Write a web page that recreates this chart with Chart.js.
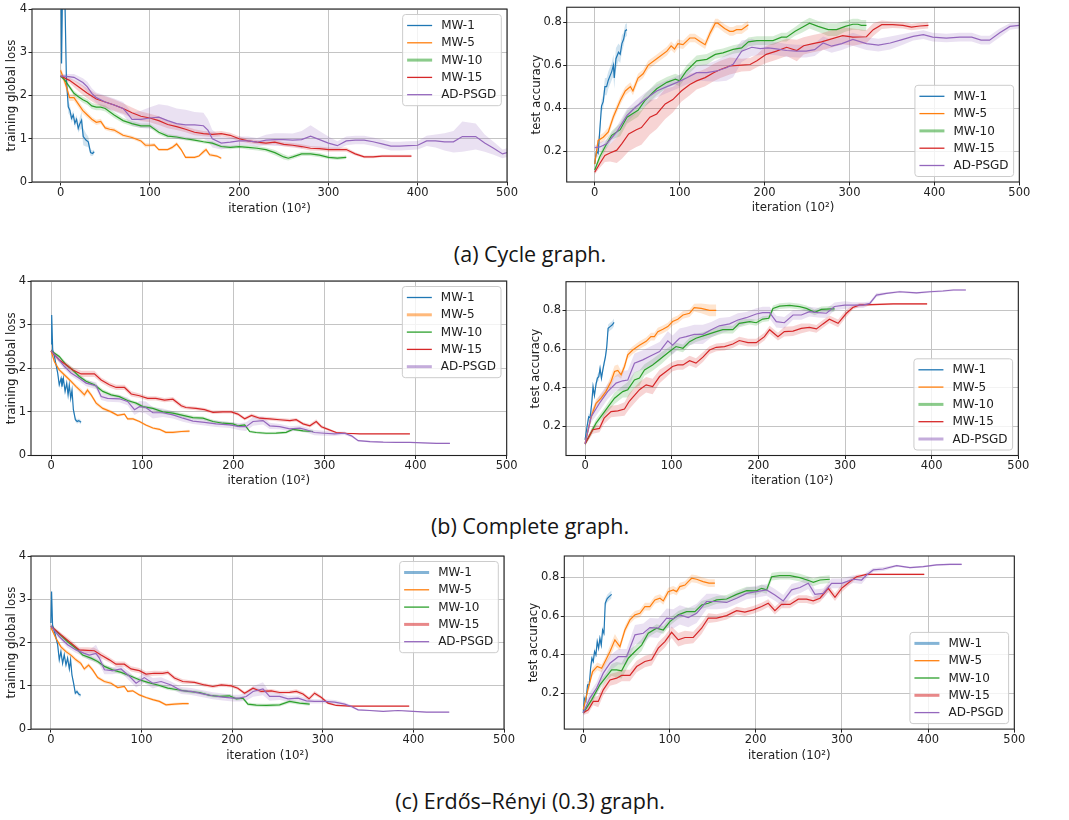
<!DOCTYPE html>
<html>
<head>
<meta charset="utf-8">
<script src="https://cdn.jsdelivr.net/npm/chart.js@4.4.1/dist/chart.umd.min.js"></script>
<style>
  body { margin: 0; background: #fff; width: 1069px; height: 820px; position: relative; overflow: hidden; }
  canvas { position: absolute; }
  .cap { position: absolute; left: 0; width: 1060px; text-align: center; font-family: "Open Sans", Lato, sans-serif;
         font-size: 21.5px; line-height: 1.2; color: #151515; }
</style>
</head>
<body>
<canvas id="cycLoss" width="520" height="216" style="left:0;top:0"></canvas>
<canvas id="cycAcc" width="549" height="215" style="left:520px;top:0"></canvas>
<div class="cap" style="top:241px">(a) Cycle graph.</div>
<canvas id="compLoss" width="520" height="218" style="left:0;top:270px"></canvas>
<canvas id="compAcc" width="549" height="218" style="left:520px;top:270px"></canvas>
<div class="cap" style="top:513px">(b) Complete graph.</div>
<canvas id="erLoss" width="520" height="218" style="left:0;top:545px"></canvas>
<canvas id="erAcc" width="549" height="218" style="left:520px;top:545px"></canvas>
<div class="cap" style="top:788px">(c) Erdős–Rényi (0.3) graph.</div>

<script>
// series names + tab10 colours
const SERIES = ['MW-1', 'MW-5', 'MW-10', 'MW-15', 'AD-PSGD'];
const COLORS = ['#1f77b4', '#ff7f0e', '#2ca02c', '#d62728', '#9467bd'];
const BANDS = ['rgba(31,119,180,0.2)', 'rgba(255,127,14,0.2)', 'rgba(44,160,44,0.2)', 'rgba(214,39,40,0.2)', 'rgba(148,103,189,0.2)'];

const xTicks = [0, 100, 200, 300, 400, 500];
const lossTicks = [0, 1, 2, 3, 4];
const accTicks = [0.2, 0.4, 0.6, 0.8];

// X = iteration (x100), Y = mean, S = half-width of shaded band (last value repeats)

// ---- (a) cycle, loss
const cycLossM1X = [0,1.1,2.2,3.5,4.9,6.5,8.6,10.4,12.3,14.2,16,17.9,19.8,21.6,23.5,25.4,28.4,31,33.6,35.8,37.7];
const cycLossM1Y = [5.5,2.74,4.5,5.0,4.2,2.4,1.74,1.66,1.47,1.55,1.36,1.45,1.24,1.35,1.43,1.05,0.97,0.93,0.68,0.66,0.7];
const cycLossM1S = [0.5,0.3,0.5,0.5,0.4,0.2,0.15,0.12,0.1,0.1,0.1,0.1,0.1,0.15,0.2,0.2,0.15,0.12,0.08,0.06,0.05];
const cycLossM5X = [0,5,8,10,15,20,25,30,35,40,45,50,55,60,70,80,90,95,100,105,110,115,120,125,130,135,140,150,155,160,163,167,175,180];
const cycLossM5Y = [2.58,2.3,2.1,1.95,1.95,1.8,1.65,1.55,1.45,1.38,1.4,1.25,1.22,1.2,1.08,1.03,0.95,0.85,0.85,0.86,0.75,0.75,0.75,0.8,0.88,0.75,0.57,0.57,0.6,0.7,0.75,0.63,0.6,0.55];
const cycLossM5S = [0.08,0.1,0.1,0.08,0.08,0.08,0.08,0.07,0.06,0.06,0.06,0.05,0.05,0.05,0.04,0.04,0.04,0.05,0.04,0.04,0.03,0.03,0.03,0.04,0.05,0.04,0.03,0.03,0.03,0.05,0.05,0.04,0.03,0.03];
const cycLossM10X = [0,5,10,15,20,25,30,35,40,45,50,60,70,80,90,100,110,120,130,140,150,160,170,180,190,200,210,220,230,240,250,255,260,270,280,290,300,310,320];
const cycLossM10Y = [2.45,2.35,2.2,2.05,1.97,1.9,1.85,1.76,1.73,1.73,1.7,1.55,1.42,1.35,1.3,1.3,1.15,1.06,1.04,1.0,0.97,0.93,0.9,0.82,0.8,0.82,0.8,0.78,0.75,0.68,0.58,0.55,0.58,0.65,0.65,0.62,0.57,0.55,0.57];
const cycLossM10S = [0.03,0.04,0.05,0.06,0.06,0.07,0.07,0.07,0.07,0.07,0.07,0.07,0.06,0.06,0.05,0.05,0.05,0.05,0.04,0.04,0.04,0.04,0.04,0.04,0.04,0.04,0.05,0.05,0.05,0.06,0.06,0.05,0.05,0.05,0.05,0.05,0.04];
const cycLossM15X = [0,10,20,30,40,50,60,70,80,90,100,110,120,130,140,150,160,170,180,190,200,210,220,230,240,250,260,270,280,290,300,310,320,330,340,350,360,370,380,393];
const cycLossM15Y = [2.45,2.35,2.2,2.05,1.92,1.85,1.78,1.7,1.6,1.52,1.48,1.42,1.33,1.28,1.22,1.15,1.12,1.1,1.12,1.08,1.0,0.95,0.92,0.9,0.92,0.87,0.85,0.82,0.78,0.77,0.75,0.75,0.75,0.65,0.58,0.58,0.6,0.6,0.6,0.6];
const cycLossM15S = [0.03,0.06,0.1,0.12,0.12,0.13,0.13,0.12,0.12,0.11,0.1,0.1,0.09,0.08,0.07,0.07,0.06,0.06,0.06,0.06,0.06,0.05,0.05,0.05,0.05,0.05,0.05,0.05,0.05,0.05,0.05,0.05,0.05,0.04,0.03];
const cycLossADX = [0,5,15,25,30,35,40,50,60,70,75,80,90,100,110,120,130,140,150,160,165,170,180,190,200,210,220,230,240,250,260,270,280,290,300,310,320,330,340,350,360,370,380,390,400,410,420,430,440,450,465,475,485,495,500];
const cycLossADY = [2.45,2.45,2.42,2.3,2.2,2.05,1.95,1.85,1.78,1.7,1.58,1.45,1.45,1.48,1.5,1.42,1.35,1.32,1.32,1.3,1.2,1.0,0.9,0.92,0.95,0.95,0.92,0.97,0.98,0.98,0.97,0.98,1.06,0.98,0.9,0.84,0.95,0.97,0.97,0.93,0.88,0.83,0.83,0.84,0.85,0.95,0.95,0.93,0.93,1.05,1.05,0.9,0.78,0.65,0.68];
const cycLossADS = [0.05,0.05,0.08,0.1,0.12,0.12,0.12,0.15,0.15,0.15,0.15,0.15,0.2,0.25,0.3,0.35,0.35,0.35,0.3,0.3,0.25,0.2,0.15,0.12,0.1,0.1,0.1,0.12,0.15,0.15,0.15,0.2,0.25,0.2,0.15,0.1,0.1,0.1,0.1,0.1,0.1,0.1,0.1,0.1,0.1,0.12,0.15,0.2,0.25,0.35,0.3,0.2,0.15,0.1,0.1];

// ---- (a) cycle, accuracy
const cycAccM1X = [0,2,4,6,8,10,12,14,16,18,20,22,23,25,28,30,32,34,36,38];
const cycAccM1Y = [0.14,0.2,0.19,0.3,0.41,0.43,0.5,0.5,0.53,0.55,0.57,0.6,0.54,0.63,0.66,0.65,0.7,0.72,0.76,0.765];
const cycAccM1S = [0.01,0.02,0.02,0.03,0.03,0.03,0.04,0.04,0.04,0.04,0.04,0.05,0.05,0.05,0.04,0.04,0.04,0.03];
const cycAccM5X = [0,4,10,16,22,30,36,42,45,51,57,63,73,85,90,94,98,104,112,118,124,130,136,142,145,153,159,163,167,173,181];
const cycAccM5Y = [0.14,0.25,0.265,0.29,0.36,0.435,0.48,0.5,0.48,0.54,0.56,0.6,0.63,0.665,0.69,0.675,0.7,0.695,0.726,0.726,0.71,0.695,0.75,0.795,0.795,0.77,0.757,0.757,0.765,0.765,0.788];
const cycAccM5S = [0.01,0.02];
const cycAccM10X = [0,6,12,20,30,38,44,51,59,73,85,95,100,108,120,132,142,151,163,173,181,191,202,210,220,226,236,244,253,263,275,285,295,304,310,314,320];
const cycAccM10Y = [0.113,0.174,0.22,0.274,0.3,0.358,0.373,0.39,0.435,0.49,0.52,0.535,0.527,0.573,0.62,0.627,0.65,0.657,0.673,0.68,0.708,0.714,0.714,0.714,0.73,0.73,0.757,0.775,0.795,0.78,0.765,0.765,0.78,0.79,0.79,0.785,0.785];
const cycAccM10S = [0.01,0.015,0.02,0.02,0.03,0.03,0.03,0.03,0.03,0.03,0.025,0.025,0.025,0.025,0.025,0.025,0.02,0.02,0.02,0.02,0.02,0.02,0.02,0.02,0.02,0.02,0.02,0.025,0.025,0.025,0.03,0.03,0.025];
const cycAccM15X = [0,6,12,18,26,32,40,49,55,65,73,83,92,102,112,120,130,140,148,159,173,183,191,202,214,226,238,246,257,267,277,292,304,320,328,338,351,363,373,383,393];
const cycAccM15Y = [0.102,0.143,0.18,0.192,0.205,0.235,0.28,0.3,0.31,0.358,0.373,0.42,0.44,0.48,0.51,0.527,0.542,0.565,0.58,0.596,0.6,0.603,0.62,0.65,0.665,0.683,0.668,0.69,0.7,0.708,0.72,0.737,0.73,0.732,0.765,0.788,0.788,0.785,0.777,0.782,0.785];
const cycAccM15S = [0.01,0.02,0.03,0.04,0.06,0.07,0.08,0.08,0.08,0.08,0.07,0.07,0.06,0.05,0.05,0.04,0.04,0.04,0.04,0.04,0.03,0.03,0.03,0.04,0.04,0.04,0.05,0.04,0.04,0.04,0.04,0.04,0.04,0.03,0.03,0.02,0.015];
const cycAccADX = [0,6,14,26,38,48,59,73,85,97,108,120,132,144,155,163,173,185,195,204,214,226,238,249,259,269,279,291,304,320,334,348,363,375,387,398,414,430,444,455,465,477,489,500];
const cycAccADY = [0.217,0.22,0.235,0.29,0.366,0.404,0.44,0.48,0.5,0.52,0.54,0.565,0.565,0.573,0.588,0.604,0.665,0.683,0.677,0.68,0.676,0.668,0.665,0.665,0.672,0.703,0.688,0.7,0.72,0.7,0.693,0.703,0.72,0.734,0.742,0.73,0.726,0.73,0.73,0.716,0.716,0.75,0.78,0.785];
const cycAccADS = [0.01,0.02,0.02,0.025,0.03,0.03,0.03,0.03,0.03,0.03,0.03,0.035,0.04,0.05,0.06,0.06,0.05,0.04,0.03,0.03,0.03,0.03,0.03,0.03,0.03,0.03,0.03,0.03,0.03,0.03,0.03,0.03,0.025,0.02,0.02,0.02,0.02,0.02,0.02,0.02,0.02,0.02,0.015];

// ---- (b) complete, loss
const compLossM1X = [0,0.7,1.8,3.7,5.5,7.3,9,11,12,13.5,15.4,17.2,18.7,20,21.6,23,24.5,26.7,28.6,30.4,33];
const compLossM1Y = [2.56,3.22,2.42,2.27,2.08,1.89,1.62,1.77,1.58,1.77,1.47,1.66,1.39,1.62,1.31,1.5,1.05,0.82,0.78,0.8,0.76];
const compLossM1S = [0.1,0.1,0.08,0.06,0.05];
const compLossM5X = [0,3.7,9,16.5,22,27.5,33,36.6,40,44,49.5,56.8,66,73,80.6,84,90,97,104,111.7,119,126,133.7,142.9,152];
const compLossM5Y = [2.4,2.15,1.96,1.81,1.7,1.58,1.47,1.39,1.5,1.39,1.2,1.08,1.0,0.92,0.95,0.84,0.84,0.78,0.7,0.63,0.6,0.53,0.53,0.55,0.56];
const compLossM5S = [0.03,0.04,0.05,0.05,0.05,0.05,0.06,0.06,0.06,0.05,0.05,0.04,0.04,0.03];
const compLossM10X = [0,9,16.5,23.8,31,38.5,47.6,56.8,66,75,84,93.4,100.7,111.7,122.7,133.7,144.7,155.7,166.7,177.7,188.6,199.6,205,212.5,218,225,236,247,258,265.6,276.6,287.5];
const compLossM10Y = [2.4,2.27,2.08,1.96,1.81,1.7,1.62,1.47,1.39,1.35,1.26,1.2,1.12,1.08,1.0,0.97,0.92,0.87,0.855,0.78,0.74,0.725,0.68,0.7,0.55,0.527,0.51,0.515,0.53,0.6,0.565,0.55];
const compLossM10S = [0.03,0.04,0.05,0.05,0.05,0.05,0.05,0.05,0.04,0.04,0.04,0.04,0.04,0.04,0.05,0.05,0.05,0.04,0.04,0.04,0.04,0.04,0.04,0.03];
const compLossM15X = [0,9,16.5,23.8,33,40,47.6,55,64,71.4,80.6,88,97,106,115,124.5,133.7,142.9,148,159,168.5,177.7,188.6,197.8,205,212.5,220,229,240,251,262,269,276.6,284,291,296.7,304,313,324,338.8,364.5,393.8];
const compLossM15Y = [2.4,2.19,2.08,1.96,1.87,1.87,1.87,1.73,1.62,1.56,1.56,1.41,1.37,1.31,1.31,1.27,1.29,1.14,1.1,1.08,1.05,0.99,1.0,1.0,0.95,0.84,0.92,0.855,0.84,0.82,0.8,0.82,0.725,0.68,0.78,0.66,0.6,0.527,0.51,0.496,0.496,0.496];
const compLossM15S = [0.04,0.05,0.06,0.06,0.07,0.07,0.07,0.06,0.06,0.06,0.06,0.06,0.05,0.05,0.05,0.05,0.05,0.05,0.04,0.04,0.04,0.04,0.04,0.04,0.04,0.04,0.04,0.04,0.04,0.04,0.04,0.04,0.04,0.04,0.05,0.04,0.03,0.02,0.02,0.01];
const compLossADX = [0,7.3,14.7,22,31,38.5,49.5,55,62,75,84,91.6,97,104,111.7,122.7,133.7,144.7,155.7,168.5,181,196,207,214,221.6,232.6,240,251,262,273,280,289,300,311,322,329.7,337,350,364.5,379,393.8,408,423,437.7];
const compLossADY = [2.4,2.23,2.04,1.89,1.77,1.66,1.6,1.35,1.31,1.3,1.24,1.05,1.12,1.1,0.98,0.98,0.93,0.855,0.79,0.76,0.725,0.7,0.66,0.66,0.78,0.8,0.68,0.66,0.61,0.626,0.59,0.527,0.51,0.496,0.51,0.45,0.34,0.32,0.305,0.3,0.3,0.29,0.28,0.28];
const compLossADS = [0.05,0.06,0.07,0.07,0.07,0.07,0.08,0.08,0.08,0.08,0.09,0.12,0.13,0.14,0.13,0.1,0.08,0.08,0.07,0.07,0.07,0.07,0.08,0.1,0.1,0.09,0.07,0.06,0.06,0.06,0.06,0.06,0.06,0.05,0.04,0.03,0.02,0.02,0.01];

// ---- (b) complete, accuracy
const compAccM1X = [0,2.3,4.2,5.8,7.7,9.2,10.8,12.7,14.3,15.8,17.3,18.9,20.4,22,23.5,25,26.6,28.9,31.2,33.5];
const compAccM1Y = [0.131,0.2,0.25,0.245,0.32,0.406,0.36,0.42,0.45,0.457,0.5,0.45,0.49,0.527,0.56,0.61,0.707,0.716,0.724,0.738];
const compAccM1S = [0.01,0.02];
const compAccM5X = [0,7,12.7,18.5,24,30,34,37.8,41.6,45.5,49.3,55,62.8,70.5,76,80,84,89.8,95.5,101,107,113,120.6,126,134,143.7,151.4];
const compAccM5Y = [0.114,0.25,0.32,0.346,0.38,0.432,0.484,0.49,0.467,0.51,0.57,0.595,0.62,0.64,0.664,0.664,0.69,0.702,0.716,0.742,0.754,0.776,0.785,0.814,0.81,0.8,0.8];
const compAccM5S = [0.01,0.02,0.02,0.02,0.02,0.03,0.03,0.03,0.02,0.02,0.02,0.02,0.02,0.02,0.02,0.02,0.02,0.02,0.02,0.02,0.02,0.02,0.02,0.02,0.025,0.03];
const compAccM10X = [0,12.7,24,34,43.5,49.3,57,62.8,68.6,78,87.8,97.5,105,113,120.6,128,139.8,151.4,159,170.6,178,190,197.6,205,212,216.9,224.6,236,247.7,255.4,265,272.7,284,288];
const compAccM10Y = [0.11,0.217,0.286,0.346,0.38,0.39,0.44,0.45,0.492,0.518,0.552,0.587,0.613,0.604,0.638,0.656,0.673,0.69,0.7,0.7,0.733,0.742,0.736,0.755,0.759,0.81,0.822,0.826,0.819,0.81,0.79,0.805,0.808,0.808];
const compAccM10S = [0.01,0.02,0.02,0.03,0.03,0.04,0.04,0.04,0.03,0.03,0.03,0.025,0.02,0.02,0.02,0.02,0.02,0.02,0.02,0.02,0.02,0.015];
const compAccM15X = [0,8.9,16.6,22,30,37.8,45.5,51,62.8,70.5,78,86,93.6,101,107,113,120.6,128,136,143.7,151.4,161,170.6,178,188,197.6,207,213,222.6,230,240,249.6,259,267,274.6,282,292,301.6,309,317,332,355.5,374.8,394.8];
const compAccM15Y = [0.11,0.183,0.19,0.243,0.277,0.281,0.29,0.33,0.39,0.415,0.406,0.458,0.484,0.51,0.518,0.518,0.54,0.527,0.558,0.595,0.609,0.613,0.626,0.644,0.633,0.633,0.664,0.7,0.664,0.69,0.693,0.707,0.712,0.704,0.73,0.754,0.733,0.785,0.815,0.828,0.83,0.833,0.833,0.833];
const compAccM15S = [0.01,0.02,0.02,0.03,0.03,0.03,0.035,0.04,0.04,0.04,0.04,0.035,0.03,0.025,0.025,0.025,0.025,0.025,0.025,0.02,0.02,0.02,0.02,0.02,0.02,0.02,0.02,0.02,0.02,0.025,0.025,0.025,0.02,0.02,0.02,0.02,0.02,0.02,0.01,0.01,0.005];
const compAccADX = [0,7,16.6,26,35.8,43.5,49.3,57,66.6,76,86,95.5,101,109,116.7,126,136,145.6,155,166.8,176.4,186,197.6,205,213,220.7,230,240,249.6,259,268.9,278.6,288,299.7,309,320.9,328.6,336.3,347.8,363,382.5,398,413,425,439.5];
const compAccADY = [0.11,0.25,0.32,0.38,0.424,0.436,0.44,0.527,0.544,0.565,0.587,0.642,0.62,0.656,0.664,0.676,0.676,0.7,0.72,0.73,0.75,0.762,0.781,0.788,0.788,0.742,0.736,0.776,0.776,0.793,0.788,0.785,0.82,0.827,0.827,0.827,0.836,0.879,0.888,0.896,0.89,0.896,0.9,0.905,0.905];
const compAccADS = [0.01,0.03,0.04,0.04,0.04,0.05,0.05,0.05,0.05,0.05,0.05,0.05,0.05,0.05,0.05,0.05,0.05,0.04,0.04,0.035,0.035,0.03,0.03,0.03,0.03,0.03,0.03,0.025,0.025,0.025,0.025,0.025,0.02,0.02,0.015,0.015,0.01,0.01,0.005];

// ---- (c) Erdos-Renyi, loss
const erLossM1X = [0,0.7,1.8,4.8,7.4,9.2,11,12.9,14.7,16.6,18.4,20.3,21.7,23.2,25,26.9,28.7,30.6,32.8];
const erLossM1Y = [2.45,3.18,2.4,2.18,1.95,1.6,1.79,1.52,1.72,1.48,1.64,1.39,1.6,1.25,1.06,0.83,0.87,0.81,0.78];
const erLossM1S = [0.1,0.08,0.06,0.05];
const erLossM5X = [0,5.5,11,16.6,22,27.6,33,36.8,41.6,46,51.6,59,66.3,73.7,81,84.7,90.3,97.6,105,112.4,119.7,127,136.3,145.5,152];
const erLossM5Y = [2.35,2.1,1.9,1.79,1.71,1.6,1.52,1.39,1.48,1.37,1.19,1.1,1.06,0.96,0.985,0.87,0.885,0.79,0.73,0.68,0.64,0.56,0.577,0.59,0.59];
const erLossM5S = [0.03,0.04,0.05,0.05,0.05,0.05,0.05,0.05,0.05,0.05,0.04,0.04,0.04,0.03];
const erLossM10X = [0,9.2,18.4,27.6,35,44.2,51.6,59,68,77.4,88.4,97.6,106.9,117.9,129,140,151,164,175,186,197,204.5,211.9,217.4,226.6,237.7,252.4,263.4,274.5,285.6];
const erLossM10Y = [2.38,2.2,2.02,1.87,1.71,1.64,1.56,1.45,1.37,1.31,1.22,1.14,1.08,1.02,0.946,0.91,0.87,0.846,0.78,0.754,0.77,0.7,0.715,0.577,0.554,0.546,0.56,0.64,0.6,0.577];
const erLossM10S = [0.03,0.04,0.05,0.05,0.05,0.05,0.05,0.05,0.05,0.05,0.04];
const erLossM15X = [0,11,20.3,31.3,40.5,47.9,55.3,64.5,71.8,81,88.4,97.6,105,114,123.4,129,136.3,145.5,158.4,169.5,178.7,188,199,206.3,213.7,223,232,243.2,252.4,263.4,270.8,278.2,284.8,291,298.5,305.8,315,329.8,355.6,377.7,395.4];
const erLossM15Y = [2.38,2.18,2.02,1.83,1.82,1.81,1.71,1.6,1.5,1.5,1.39,1.35,1.27,1.29,1.29,1.31,1.18,1.1,1.08,1.02,0.985,1.02,1.0,0.946,0.83,0.946,0.87,0.885,0.846,0.85,0.87,0.81,0.7,0.83,0.73,0.6,0.546,0.53,0.53,0.53,0.53];
const erLossM15S = [0.04,0.05,0.06,0.06,0.07,0.07,0.07,0.06,0.06,0.06,0.06,0.06,0.06,0.06,0.05,0.05,0.05,0.05,0.04,0.04,0.04,0.04,0.04,0.04,0.04,0.04,0.04,0.04,0.04,0.04,0.05,0.05,0.05,0.05,0.04,0.03,0.02,0.01];
const erLossADX = [0,9.2,18.4,27.6,36.8,42.4,49.7,53.4,59,68,77.4,86.6,94,103,112.4,121.6,132.6,143.7,154.8,167.6,178.7,189.8,200.8,208.2,215.5,223,234,241.3,252.4,261.6,272.7,281.9,291,302,313.2,324.2,331.6,339,351.9,366.6,383.2,399.8,414.5,439.6];
const erLossADY = [2.38,2.14,1.95,1.83,1.75,1.71,1.75,1.64,1.37,1.35,1.39,1.22,1.06,1.19,1.06,1.1,1.02,0.89,0.87,0.815,0.77,0.74,0.715,0.715,0.754,0.87,0.93,0.754,0.754,0.7,0.715,0.654,0.64,0.64,0.623,0.577,0.523,0.446,0.43,0.41,0.43,0.41,0.39,0.39];
const erLossADS = [0.05,0.06,0.07,0.07,0.08,0.12,0.2,0.15,0.1,0.08,0.08,0.1,0.1,0.12,0.12,0.1,0.08,0.08,0.08,0.08,0.08,0.08,0.08,0.08,0.1,0.12,0.15,0.1,0.08,0.07,0.06,0.06,0.05,0.05,0.05,0.04,0.03,0.02,0.015,0.01];

// ---- (c) Erdos-Renyi, accuracy
const erAccM1X = [0,1.2,3,5,7,8.5,10,11.6,13.1,14.7,16.2,17.8,19.3,20.9,22.4,24,25.5,27.8,30,32.9];
const erAccM1Y = [0.099,0.176,0.16,0.245,0.245,0.33,0.382,0.365,0.417,0.4,0.468,0.434,0.485,0.45,0.528,0.511,0.666,0.69,0.7,0.712];
const erAccM1S = [0.01,0.02];
const erAccM5X = [0,5.8,10.8,16.2,21.3,26.3,31,36.7,42.5,48.3,54.1,60,65.7,71.5,77.3,83.1,89,92.8,98.6,104.4,108.3,112,118,121.8,125.7,131.5,139,145.8,152.7];
const erAccM5Y = [0.116,0.228,0.313,0.34,0.33,0.374,0.417,0.477,0.442,0.528,0.58,0.606,0.614,0.649,0.649,0.683,0.692,0.678,0.726,0.735,0.726,0.752,0.76,0.778,0.795,0.79,0.778,0.77,0.77];
const erAccM5S = [0.01,0.02,0.02,0.02,0.02,0.02,0.03,0.03,0.02];
const erAccM10X = [0,9.7,19.3,27,32.9,38.7,44.5,52.2,60,67.7,75.4,85,92.8,100.5,110.2,119.9,129.5,137.3,145,154.7,166.3,177.9,189.5,201,206.9,212.7,218.5,228,239.8,251.4,263,266.8,274.6,286];
const erAccM10Y = [0.1,0.167,0.245,0.288,0.322,0.322,0.317,0.382,0.417,0.45,0.511,0.537,0.528,0.571,0.606,0.623,0.623,0.657,0.666,0.683,0.688,0.712,0.731,0.73,0.743,0.735,0.803,0.809,0.809,0.798,0.781,0.774,0.786,0.79];
const erAccM10S = [0.01,0.02,0.02,0.02,0.03,0.04,0.04,0.04,0.03,0.03,0.02];
const erAccM15X = [0,5.8,11.6,17.4,23.2,31,38.7,44.5,54.1,61.9,71.5,79.3,87,94.7,102.5,110.2,118,127.6,137.3,145,154.7,166.3,177.9,187.5,197.2,206.9,214.6,222.3,230,239.8,249.4,259,266.8,274.6,284.2,292,299.7,309.4,317,328.7,352,375,395.6];
const erAccM15Y = [0.1,0.116,0.159,0.159,0.219,0.27,0.279,0.293,0.293,0.339,0.365,0.374,0.434,0.468,0.516,0.477,0.489,0.489,0.537,0.589,0.589,0.602,0.628,0.62,0.632,0.649,0.666,0.628,0.66,0.66,0.687,0.687,0.678,0.692,0.743,0.697,0.743,0.778,0.803,0.815,0.815,0.815,0.815];
const erAccM15S = [0.01,0.02,0.02,0.03,0.03,0.03,0.03,0.03,0.03,0.03,0.03,0.03,0.03,0.03,0.03,0.035,0.035,0.03,0.03,0.025,0.02,0.02,0.02,0.02,0.02,0.02,0.02,0.02,0.02,0.02,0.02,0.02,0.02,0.02,0.02,0.02,0.02,0.015,0.01,0.005];
const erAccADX = [0,7.7,15.5,23.2,31,40.6,50.3,60,69.6,77.3,87,96.7,104.4,112,121.8,131.5,143,154.7,166.3,177.9,189.5,201,212.7,222.3,232,241.7,251.4,261,268.8,278.4,288,299.7,313.2,322.9,328.7,336.4,348,363.5,379,394.4,409.9,425.4,439];
const erAccADY = [0.1,0.176,0.228,0.305,0.356,0.39,0.39,0.503,0.511,0.54,0.537,0.589,0.585,0.606,0.592,0.614,0.675,0.675,0.67,0.692,0.717,0.726,0.735,0.709,0.678,0.735,0.747,0.769,0.712,0.717,0.769,0.769,0.79,0.786,0.812,0.838,0.843,0.86,0.85,0.855,0.864,0.867,0.867];
const erAccADS = [0.02,0.03,0.03,0.04,0.04,0.04,0.04,0.05,0.05,0.05,0.05,0.05,0.05,0.05,0.05,0.05,0.04,0.04,0.03,0.03,0.03,0.03,0.03,0.03,0.03,0.03,0.03,0.03,0.025,0.025,0.025,0.025,0.02,0.02,0.015,0.01,0.01,0.005];

Chart.defaults.font.family = '"DejaVu Sans", sans-serif';
Chart.defaults.color = '#222';

// matplotlib-ish frame + legend box
const mplFrame = {
    id: 'mplFrame',
    afterDraw(chart, args, opts) {
        const { ctx, chartArea: a } = chart;
        ctx.save();
        ctx.strokeStyle = '#222';
        ctx.lineWidth = 1.1;
        ctx.strokeRect(a.left, a.top, a.right - a.left, a.bottom - a.top);

        ctx.font = '12px "DejaVu Sans"';
        const tw = Math.max(...SERIES.map(s => ctx.measureText(s).width));
        const rowH = 17.3;
        const w = 4.5 + 25 + 9 + tw + 5;
        const h = 22 + rowH * 4;
        const x = a.right - 5.7 - w;
        const y = opts.loc === 'upper' ? a.top + 5.5 : a.bottom - 5.5 - h;
        ctx.beginPath();
        ctx.roundRect(x, y, w, h, 3);
        ctx.fillStyle = 'rgba(255,255,255,0.8)';
        ctx.fill();
        ctx.strokeStyle = '#cccccc';
        ctx.lineWidth = 1;
        ctx.stroke();

        ctx.textBaseline = 'middle';
        ctx.textAlign = 'left';
        SERIES.forEach((name, i) => {
            const ry = y + 11 + i * rowH;
            const thick = opts.thick.includes(i);
            ctx.globalAlpha = thick ? 0.55 : 1;
            ctx.strokeStyle = COLORS[i];
            ctx.lineWidth = thick ? 3 : 1.3;
            ctx.beginPath();
            ctx.moveTo(x + 4.5, ry);
            ctx.lineTo(x + 29.5, ry);
            ctx.stroke();
            ctx.globalAlpha = 1;
            ctx.fillStyle = '#222';
            ctx.fillText(name, x + 38.5, ry + 0.5);
        });
        ctx.restore();
    }
};

function buildDatasets(series) {
    const sets = [];
    series.forEach(([xs, ys, sp], i) => {
        const half = k => sp[Math.min(k, sp.length - 1)];
        sets.push({
            data: xs.map((x, k) => ({ x, y: ys[k] - half(k) })),
            borderWidth: 0, pointRadius: 0, fill: false, order: 20 - i
        });
        sets.push({
            data: xs.map((x, k) => ({ x, y: ys[k] + half(k) })),
            borderWidth: 0, pointRadius: 0, fill: '-1', backgroundColor: BANDS[i], order: 20 - i
        });
        sets.push({
            label: SERIES[i],
            data: xs.map((x, k) => ({ x, y: ys[k] })),
            borderColor: COLORS[i], borderWidth: 1.2, pointRadius: 0, fill: false, order: 10 - i
        });
    });
    return sets;
}

const panels = [
    { id: 'cycLoss', pad: { left: 4.5, top: 9, right: 13 }, yw: 27.5, xh: 34, xmin: -32, ymin: 0, ymax: 4,
      yTicks: lossTicks, yTitle: 'training global loss', loc: 'upper', thick: [2],
      series: [[cycLossM1X, cycLossM1Y, cycLossM1S], [cycLossM5X, cycLossM5Y, cycLossM5S], [cycLossM10X, cycLossM10Y, cycLossM10S],
               [cycLossM15X, cycLossM15Y, cycLossM15S], [cycLossADX, cycLossADY, cycLossADS]] },
    { id: 'cycAcc', pad: { left: 9.5, top: 5.7, right: 49.7 }, yw: 37.2, xh: 33, xmin: -33, ymin: 0.057, ymax: 0.869,
      yTicks: accTicks, yTitle: 'test accuracy', loc: 'lower', thick: [2],
      series: [[cycAccM1X, cycAccM1Y, cycAccM1S], [cycAccM5X, cycAccM5Y, cycAccM5S], [cycAccM10X, cycAccM10Y, cycAccM10S],
               [cycAccM15X, cycAccM15Y, cycAccM15S], [cycAccADX, cycAccADY, cycAccADS]] },
    { id: 'compLoss', pad: { left: 4.5, top: 11, right: 13.3 }, yw: 26.5, xh: 32.5, xmin: -22, ymin: 0, ymax: 4,
      yTicks: lossTicks, yTitle: 'training global loss', loc: 'upper', thick: [1, 4],
      series: [[compLossM1X, compLossM1Y, compLossM1S], [compLossM5X, compLossM5Y, compLossM5S], [compLossM10X, compLossM10Y, compLossM10S],
               [compLossM15X, compLossM15Y, compLossM15S], [compLossADX, compLossADY, compLossADS]] },
    { id: 'compAcc', pad: { left: 8.5, top: 11.7, right: 50.7 }, yw: 37.5, xh: 32.5, xmin: -22, ymin: 0.05, ymax: 0.948,
      yTicks: accTicks, yTitle: 'test accuracy', loc: 'lower', thick: [2, 4],
      series: [[compAccM1X, compAccM1Y, compAccM1S], [compAccM5X, compAccM5Y, compAccM5S], [compAccM10X, compAccM10Y, compAccM10S],
               [compAccM15X, compAccM15Y, compAccM15S], [compAccADX, compAccADY, compAccADS]] },
    { id: 'erLoss', pad: { left: 4.5, top: 11, right: 16 }, yw: 26.5, xh: 33.9, xmin: -22, ymin: 0, ymax: 4,
      yTicks: lossTicks, yTitle: 'training global loss', loc: 'upper', thick: [0, 3],
      series: [[erLossM1X, erLossM1Y, erLossM1S], [erLossM5X, erLossM5Y, erLossM5S], [erLossM10X, erLossM10Y, erLossM10S],
               [erLossM15X, erLossM15Y, erLossM15S], [erLossADX, erLossADY, erLossADS]] },
    { id: 'erAcc', pad: { left: 6.8, top: 11, right: 54.7 }, yw: 37.5, xh: 33.9, xmin: -22, ymin: 0.016, ymax: 0.91,
      yTicks: accTicks, yTitle: 'test accuracy', loc: 'lower', thick: [0, 3],
      series: [[erAccM1X, erAccM1Y, erAccM1S], [erAccM5X, erAccM5Y, erAccM5S], [erAccM10X, erAccM10Y, erAccM10S],
               [erAccM15X, erAccM15Y, erAccM15S], [erAccADX, erAccADY, erAccADS]] }
];

const gridOpts = { color: '#c4c4c4', lineWidth: 1, tickLength: 3.5, tickColor: '#222', tickWidth: 1 };
const tickFont = { size: 11.5, lineHeight: 1 };
const titleFont = { size: 11.8 };

panels.forEach(p => {
    new Chart(document.getElementById(p.id), {
        type: 'line',
        data: { datasets: buildDatasets(p.series) },
        options: {
            responsive: false,
            animation: false,
            layout: { padding: { left: p.pad.left, top: p.pad.top, right: p.pad.right, bottom: 0 } },
            elements: { line: { tension: 0 }, point: { radius: 0 } },
            plugins: {
                legend: { display: false },
                tooltip: { enabled: false },
                mplFrame: { loc: p.loc, thick: p.thick }
            },
            scales: {
                x: {
                    type: 'linear', min: p.xmin, max: 500,
                    afterBuildTicks: s => { s.ticks = xTicks.map(v => ({ value: v })); },
                    afterFit: s => { s.height = p.xh; },
                    grid: gridOpts,
                    border: { display: false },
                    ticks: { font: tickFont, padding: 1.5, maxRotation: 0, color: '#222' },
                    title: { display: true, text: 'iteration (10²)', font: titleFont, padding: 0, color: '#222' }
                },
                y: {
                    type: 'linear', min: p.ymin, max: p.ymax,
                    afterBuildTicks: s => { s.ticks = p.yTicks.map(v => ({ value: v })); },
                    afterFit: s => { s.width = p.yw; },
                    grid: gridOpts,
                    border: { display: false },
                    ticks: { font: tickFont, padding: 1.5, color: '#222' },
                    title: { display: true, text: p.yTitle, font: titleFont, padding: 0, color: '#222' }
                }
            }
        },
        plugins: [mplFrame]
    });
});
</script>
</body>
</html>
